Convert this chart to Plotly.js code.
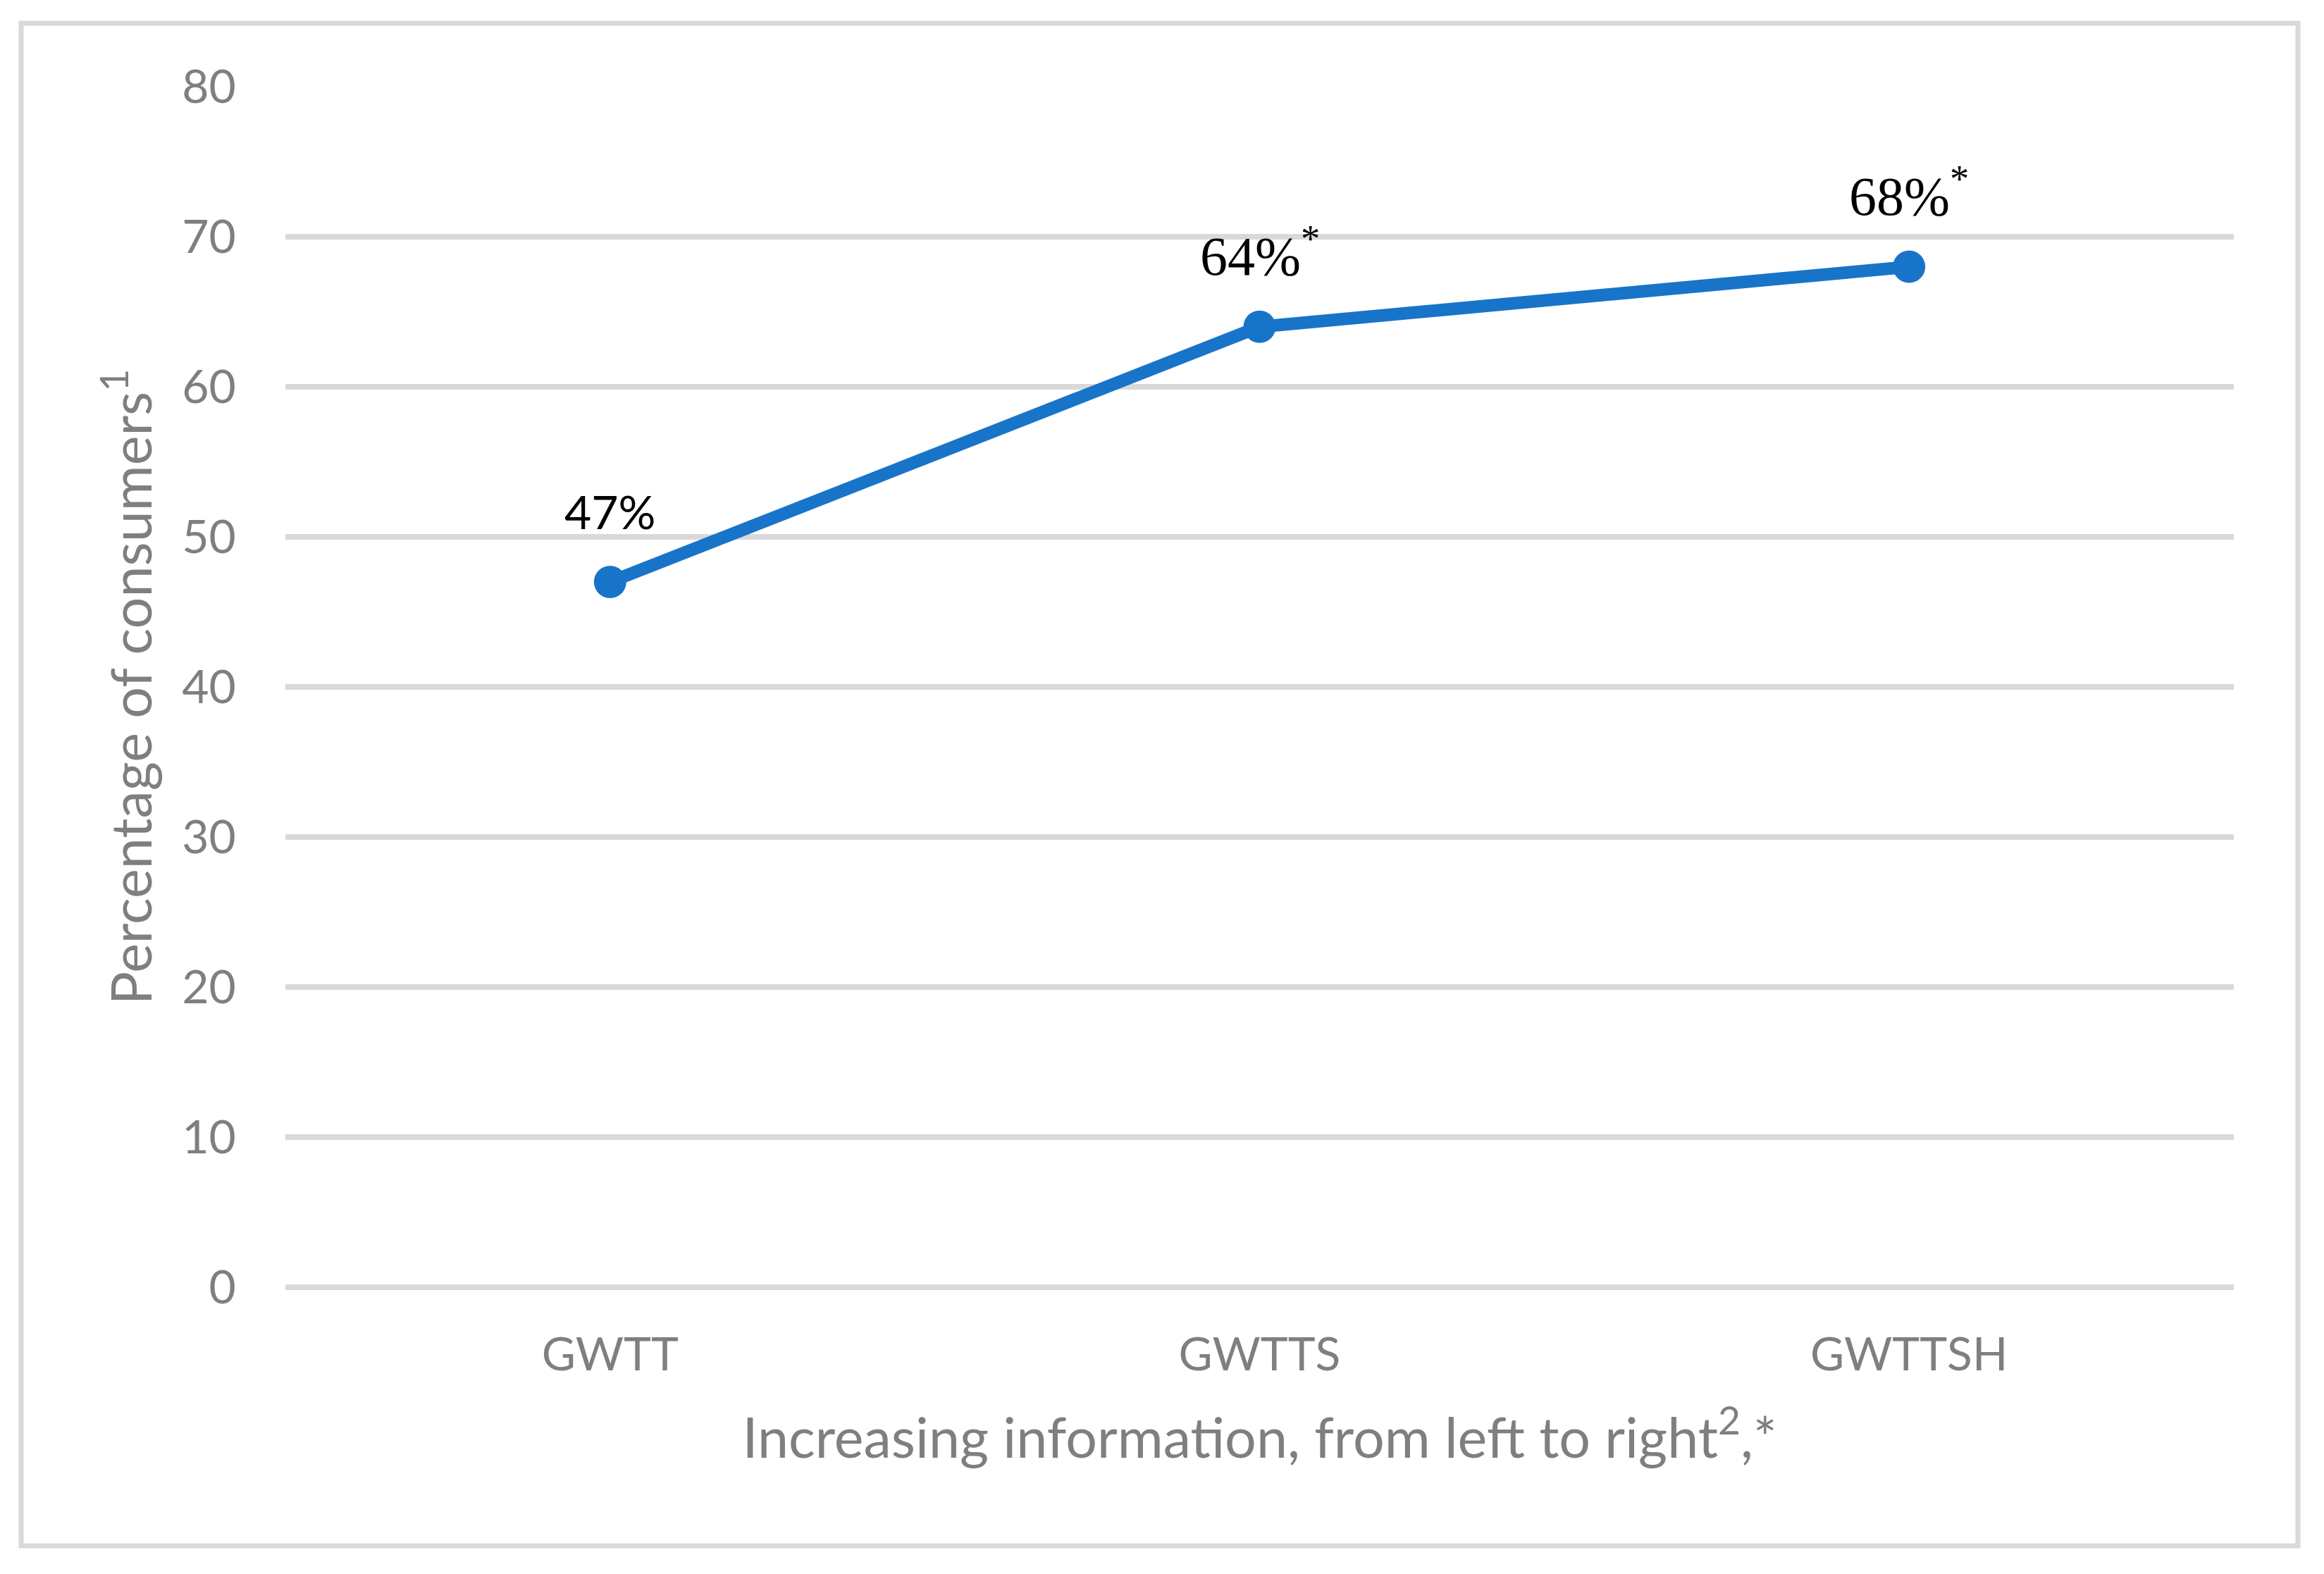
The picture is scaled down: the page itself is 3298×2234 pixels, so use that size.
<!DOCTYPE html>
<html>
<head>
<meta charset="utf-8">
<script src="https://cdn.plot.ly/plotly-3.0.1.min.js"></script>
<style>html,body{margin:0;padding:0;background:#fff;}#chart{width:3298px;height:2234px;}</style>
</head>
<body>
<div id="chart"></div>
<script>
// ---- data ----
var categories = ["GWTT", "GWTTS", "GWTTSH"];
var values = [47, 64, 68];
var valueLabels = ["47%", "64%<sup>*</sup>", "68%<sup>*</sup>"];
var labelFamilies = ["Lato", "Liberation Serif", "Liberation Serif"];
var labelSizes = [66, 78, 78];
var labelShifts = [100, 106, 106];
var yTickValues = [0, 10, 20, 30, 40, 50, 60, 70, 80];
var yTitle = "Percentage of consumers<sup>1</sup>";
var xTitle = "Increasing information, from left to right<sup>2</sup>,*";

var blue = "#1874c8";
var gray = "#7f7f7f";
var grid = "#d9d9d9";

var trace = {
  type: "scatter",
  mode: "lines+markers",
  x: categories,
  y: values,
  line: {color: blue, width: 18},
  marker: {color: blue, size: 46},
  hoverinfo: "none",
  cliponaxis: false
};

var annotations = categories.map(function (c, i) {
  return {
    x: c, y: values[i], xref: "x", yref: "y",
    text: valueLabels[i],
    showarrow: false,
    xanchor: "center", yanchor: "middle",
    yshift: labelShifts[i],
    font: {family: labelFamilies[i], size: labelSizes[i], color: "#000000"}
  };
});

var layout = {
  width: 3298, height: 2234,
  margin: {l: 405, r: 128, t: 123, b: 407, pad: 0},
  paper_bgcolor: "#ffffff", plot_bgcolor: "#ffffff",
  showlegend: false,
  font: {family: "Lato", color: gray},
  xaxis: {
    type: "category",
    range: [-0.5, 2.5],
    showgrid: false, zeroline: false, showline: false,
    ticks: "outside", ticklen: 38, tickcolor: "rgba(0,0,0,0)",
    tickfont: {family: "Lato", size: 66, color: gray},
    title: {text: xTitle, standoff: 55, font: {family: "Lato", size: 79, color: gray}},
    automargin: false, fixedrange: true
  },
  yaxis: {
    range: [0, 80],
    tickvals: yTickValues,
    showgrid: true, gridcolor: grid, gridwidth: 7.5,
    zeroline: true, zerolinecolor: grid, zerolinewidth: 7.5,
    showline: false,
    ticks: "outside", ticklen: 56, tickcolor: "rgba(0,0,0,0)",
    tickfont: {family: "Lato", size: 66, color: gray},
    title: {text: yTitle, standoff: 16, font: {family: "Lato", size: 79, color: gray}},
    automargin: false, fixedrange: true
  },
  annotations: annotations,
  shapes: [{
    type: "rect", xref: "paper", yref: "paper",
    x0: -0.13562, x1: 1.03291, y0: -0.21538, y1: 1.05282,
    line: {color: grid, width: 7}, fillcolor: "rgba(0,0,0,0)", layer: "below"
  }]
};

Plotly.newPlot("chart", [trace], layout, {staticPlot: true, displayModeBar: false});
</script>
</body>
</html>
